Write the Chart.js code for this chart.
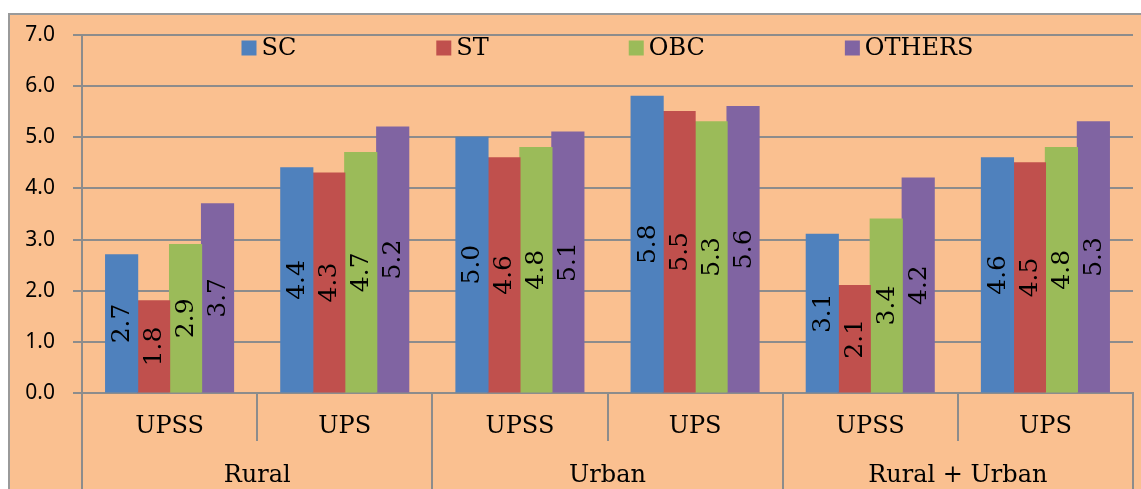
<!DOCTYPE html>
<html>
<head>
<meta charset="utf-8">
<script src="https://cdn.jsdelivr.net/npm/chart.js@4/dist/chart.umd.min.js"></script>
<style>
  html, body { margin: 0; padding: 0; background: #ffffff; overflow: hidden; }
  #wrap { position: relative; width: 1141px; height: 489px; }
</style>
</head>
<body>
<div id="wrap"><canvas id="c"></canvas></div>
<script>
// ---- data ----
const measureLabels = ['UPSS', 'UPS', 'UPSS', 'UPS', 'UPSS', 'UPS'];
const areaLabels = ['Rural', 'Urban', 'Rural + Urban'];
const seriesNames = ['SC', 'ST', 'OBC', 'OTHERS'];
const scValues = [2.7, 4.4, 5.0, 5.8, 3.1, 4.6];
const stValues = [1.8, 4.3, 4.6, 5.5, 2.1, 4.5];
const obcValues = [2.9, 4.7, 4.8, 5.3, 3.4, 4.8];
const othersValues = [3.7, 5.2, 5.1, 5.6, 4.2, 5.3];
const yTicks = [0, 1, 2, 3, 4, 5, 6, 7];

// ---- styles ----
const seriesColors = ['#4F81BD', '#C0504D', '#9BBB59', '#8064A2'];
const PEACH = '#FAC090';
const GRID = '#8c8c8c';
const FONT = '"DejaVu Serif", "Liberation Serif", serif';
const SANS = '"Noto Sans", "Open Sans", sans-serif';

const bgPlugin = {
  id: 'bgPlugin',
  beforeDraw(chart) {
    const ctx = chart.ctx;
    ctx.save();
    ctx.fillStyle = '#ffffff';
    ctx.fillRect(0, 0, chart.width, chart.height);
    ctx.fillStyle = PEACH;
    ctx.fillRect(8, 13, chart.width - 8, chart.height - 13);
    ctx.strokeStyle = '#9a9a9a';
    ctx.lineWidth = 2;
    ctx.beginPath();
    ctx.moveTo(9, chart.height);
    ctx.lineTo(9, 14);
    ctx.lineTo(chart.width, 14);
    ctx.stroke();
    ctx.restore();
  }
};

const barLabels = {
  id: 'barLabels',
  afterDatasetsDraw(chart) {
    const ctx = chart.ctx;
    chart.data.datasets.forEach((ds, i) => {
      const meta = chart.getDatasetMeta(i);
      meta.data.forEach((bar, j) => {
        const v = ds.data[j];
        const cy = (bar.y + bar.base) / 2;
        ctx.save();
        ctx.translate(bar.x, cy);
        ctx.rotate(-Math.PI / 2);
        ctx.font = '25px ' + FONT;
        ctx.fillStyle = '#000';
        ctx.textAlign = 'center';
        ctx.textBaseline = 'middle';
        ctx.fillText(v.toFixed(1), 0, 1);
        ctx.restore();
      });
    });
  }
};

const legendPlugin = {
  id: 'legendPlugin',
  afterDraw(chart) {
    const ctx = chart.ctx;
    const area = chart.chartArea;
    ctx.save();
    ctx.font = '24px ' + FONT;
    const box = 15, gapText = 5, gapItem = 140;
    const items = chart.data.datasets.map(ds => ({
      text: ds.label, color: ds.backgroundColor,
      w: box + gapText + ctx.measureText(ds.label).width
    }));
    const total = items.reduce((s, it) => s + it.w, 0) + gapItem * (items.length - 1);
    let x = (area.left + area.right) / 2 - total / 2;
    const cy = area.top + 13;
    items.forEach(it => {
      ctx.fillStyle = it.color;
      ctx.fillRect(x, cy - box / 2, box, box);
      ctx.fillStyle = '#000';
      ctx.textAlign = 'left';
      ctx.textBaseline = 'middle';
      ctx.fillText(it.text, x + box + gapText, cy + 1);
      x += it.w + gapItem;
    });
    ctx.restore();
  }
};

const seriesData = [scValues, stValues, obcValues, othersValues];

new Chart(document.getElementById('c'), {
  type: 'bar',
  data: {
    labels: measureLabels,
    datasets: seriesNames.map((n, i) => ({
      label: n,
      data: seriesData[i],
      backgroundColor: seriesColors[i],
      borderWidth: 0,
      inflateAmount: 0.6,
      categoryPercentage: 0.73,
      barPercentage: 1.0
    }))
  },
  options: {
    responsive: true,
    maintainAspectRatio: false,
    animation: false,
    layout: { padding: { left: 0, top: 35, right: 8, bottom: 0 } },
    plugins: { legend: { display: false }, tooltip: { enabled: false } },
    scales: {
      y: {
        min: 0, max: 7,
        afterBuildTicks(axis) { axis.ticks = yTicks.map(v => ({ value: v })); },
        afterFit(axis) { axis.width = 82; },
        ticks: {
          font: { family: SANS, size: 21 }, color: '#000', padding: 18,
          callback: v => Number(v).toFixed(1)
        },
        grid: { color: GRID, lineWidth: 2, tickLength: 9, drawTicks: true },
        border: { color: GRID, width: 2 }
      },
      x: {
        type: 'category',
        position: 'bottom',
        weight: 0,
        afterFit(axis) { axis.height = 48; },
        ticks: {
          font: { family: FONT, size: 24 }, color: '#000',
          padding: -29, autoSkip: false, maxRotation: 0
        },
        grid: { offset: true, drawOnChartArea: false, drawTicks: true, tickLength: 48, color: GRID, lineWidth: 2 },
        border: { color: GRID, width: 2 }
      },
      x2: {
        type: 'category',
        position: 'bottom',
        weight: 1,
        labels: areaLabels,
        offset: true,
        afterFit(axis) { axis.height = 48; },
        ticks: {
          font: { family: FONT, size: 24 }, color: '#000',
          padding: -28, autoSkip: false, maxRotation: 0
        },
        grid: { offset: true, drawOnChartArea: false, drawTicks: true, tickLength: 48, color: GRID, lineWidth: 2 },
        border: { display: false }
      }
    }
  },
  plugins: [bgPlugin, barLabels, legendPlugin]
});
</script>
</body>
</html>
